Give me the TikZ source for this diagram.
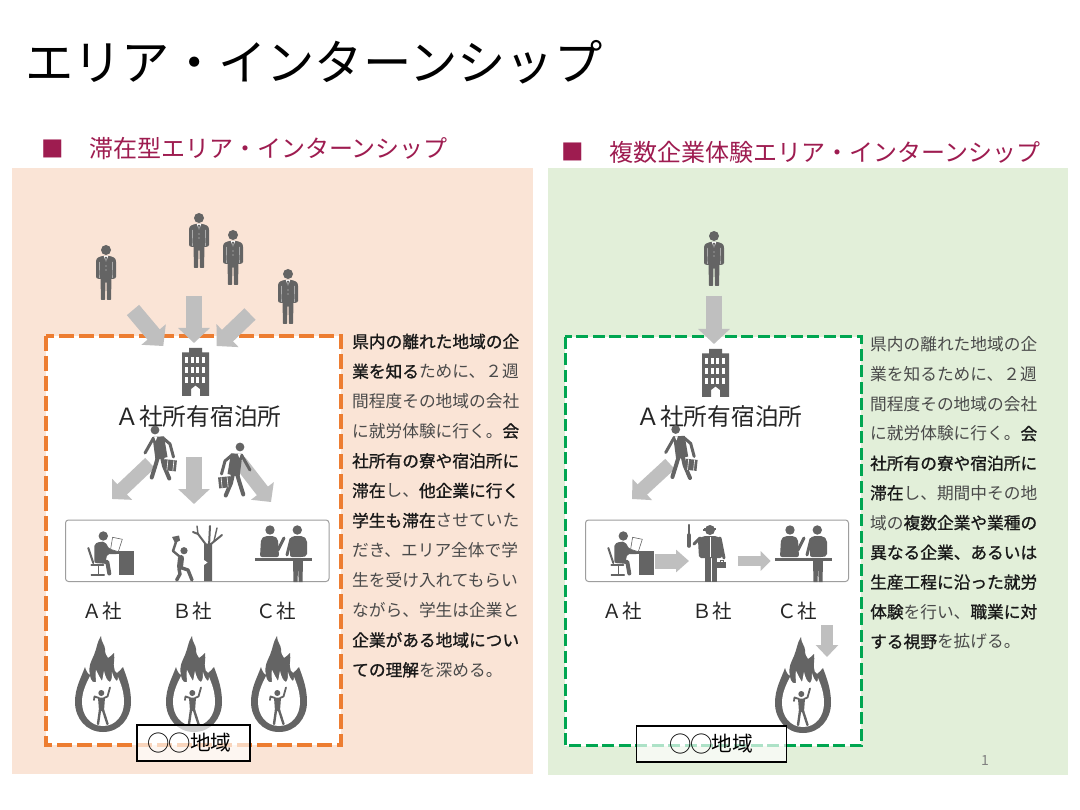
\documentclass[tikz,border=0pt]{standalone}
\usepackage{fontspec}
\setmainfont{Noto Sans CJK JP}[BoldFont={Noto Sans CJK JP},BoldFeatures={FakeBold=1.1}]
\usetikzlibrary{arrows.meta}
\definecolor{ico}{HTML}{646464}
\definecolor{arr}{HTML}{BFBFBF}
\definecolor{plum}{HTML}{9E1C50}
\definecolor{peach}{HTML}{FAE4D6}
\definecolor{mint}{HTML}{E2EFD9}
\definecolor{dashor}{HTML}{ED7D31}
\definecolor{dashgr}{HTML}{00A651}
\definecolor{bodyc}{HTML}{4A4A4A}
\newcommand{\bigring}{\makebox[20.7pt][c]{\raisebox{-1.4pt}{\scalebox{1.08}{○}}}}
\tikzset{
  x=1pt,y=-1pt,
  iconfill/.style={fill=ico,draw=none},
  limb/.style={draw=ico,line cap=round,line join=round},
  barrow/.style={draw=arr,line width=16pt,-{Triangle[length=15pt,width=31pt]},line cap=butt},
  barrowm/.style={draw=arr,line width=14pt,-{Triangle[length=14pt,width=28pt]},line cap=butt},
  bodytxt/.style={anchor=west,inner sep=0pt,font=\fontsize{16.7}{20}\selectfont,text=bodyc},
  headtxt/.style={anchor=west,inner sep=0pt,font=\fontsize{24}{28}\selectfont,text=plum},
  lodge/.style={inner sep=0pt,font=\fontsize{23.7}{28}\selectfont,text=black!85},
  firm/.style={inner sep=0pt,font=\fontsize{19.5}{24}\selectfont,text=black!85},
  regionbox/.style={draw=black,line width=1.5pt,fill=white,fill opacity=0.68,text opacity=1,minimum height=36pt,inner sep=0pt,font=\fontsize{20.7}{24}\selectfont},
  groupbox/.style={draw=black!38,line width=1pt,rounded corners=3pt,fill=white},
  person/.pic={
    \fill[ico] (0,5) circle (5);
    \fill[ico,rounded corners=1pt] (-4,11)--(4,11)--(9,13)--(10,16)--(10,33)--(7,34)--(-7,34)--(-10,33)--(-10,16)--(-9,13)--cycle;
    \fill[ico,rounded corners=.7pt] (-5.5,33)--(5.5,33)--(5,55)--(1,55)--(.5,37)--(-.5,37)--(-1,55)--(-5,55)--cycle;
    \fill[white] (-2.2,11)--(2.2,11)--(0,17)--cycle;
    \fill[ico] (-.8,12)--(.8,12)--(.6,17)--(-.6,17)--cycle;
    \draw[white!70!ico,line width=.4pt] (-6.3,17)--(-6.6,33) (6.3,17)--(6.6,33);
    \fill[white!70!ico] (0,21) circle (.6) (0,25) circle (.6);
  },
  building/.pic={
    \fill[ico] (-13.5,4.5)--(-6.5,4.5)--(-6.5,0)--(6.5,0)--(6.5,4.5)--(13.5,4.5)--(13.5,48)--(4.5,48)--(4.5,41)--(0,37.5)--(-4.5,41)--(-4.5,48)--(-13.5,48)--cycle;
    \foreach \r in {0,1,2}{\foreach \c in {0,1,2,3}{
      \fill[white] ({-10.5+\c*5.6},{9.5+\r*10}) rectangle ++(3,5.6);
    }}
  },
  walker/.pic={
    \fill[ico] (0,0) circle (4.4);
    \fill[ico] (-2.5,7)--(9,6.3)--(12.5,27)--(.5,30)--cycle;
    \draw[limb,line width=3pt] (-1.5,8)--(-10,23);
    \draw[limb,line width=3pt] (8,8)--(15,14)--(18.5,27);
    \draw[limb,line width=4pt] (7,27)--(9,36)--(14.3,48.5);
    \draw[limb,line width=4pt] (3,27)--(.3,36)--(-3.3,47.5);
    \fill[white] (-.8,7)--(2.2,7)--(.7,11)--cycle;
    \begin{scope}[rotate=-6]
      \fill[ico] (13,28) rectangle (25,39);
      \draw[white,line width=.6pt] (16,28)--(16,39) (22,28)--(22,39);
    \end{scope}
  },
  flame/.pic={
    \fill[ico] (0,96) .. controls (-17,96) and (-28,82) .. (-28,66)
      .. controls (-28,52) and (-22,42) .. (-18,31)
      .. controls (-17,35) and (-15,38) .. (-13,39)
      .. controls (-15,30) and (-12,26) .. (-9,19)
      .. controls (-6,12) and (-6,6) .. (-2,0)
      .. controls (-2,6) and (2,9) .. (2,13)
      .. controls (2,17) and (3,20) .. (5,22)
      .. controls (7,21) and (9,19) .. (11,17)
      .. controls (12,24) and (10,28) .. (11,31)
      .. controls (11,34) and (12,36) .. (14,37)
      .. controls (16,36) and (18,33) .. (20,31)
      .. controls (24,42) and (28,52) .. (28,66)
      .. controls (28,82) and (17,96) .. (0,96) -- cycle;
    \fill[white] (0,90) .. controls (-13,90) and (-21,79) .. (-21,66)
      .. controls (-21,56) and (-17,48) .. (-13,40)
      .. controls (-12,45) and (-10,47) .. (-7,46)
      .. controls (-7,42) and (-8,38) .. (-7,34)
      .. controls (-5,38) and (-3,42) .. (-1,45)
      .. controls (0,42) and (0,39) .. (1,35)
      .. controls (2,40) and (4,45) .. (7,46)
      .. controls (9,44) and (9,40) .. (9,36)
      .. controls (10,40) and (12,44) .. (14,45)
      .. controls (15,44) and (15,42) .. (15,41)
      .. controls (18,48) and (21,56) .. (21,66)
      .. controls (21,79) and (13,90) .. (0,90) -- cycle;
    \fill[ico] (-1.7,57) circle (3);
    \fill[ico] (-5,61.5)--(2,61.5)--(1,75)--(-4,75)--cycle;
    \draw[limb,line width=1.8pt] (-4,62)--(-8.5,60.5)--(-9,64);
    \draw[limb,line width=1.8pt] (1,62)--(4.5,60.5)--(7,51.5);
    \draw[limb,line width=2.4pt] (-3,74)--(-5,88);
    \draw[limb,line width=2.4pt] (0,74)--(4.5,88);
  },
  deskman/.pic={
    \fill[ico] (0,0) circle (4.7);
    \fill[ico,rounded corners=2pt] (-9,8)--(-3,5.5)--(2,6)--(6,13)--(15,15)--(15,18)--(4,18)--(2,27)--(-9,27)--cycle;
    \draw[limb,line width=4pt] (-6,25)--(4,26)--(6,37.5);
    \draw[limb,line width=2pt] (-15,12)--(-10,27);
    \draw[limb,line width=2pt] (-12,29)--(0,29);
    \draw[limb,line width=1.6pt] (-5,29)--(-5,38);
    \draw[limb,line width=1.2pt] (-12,39)--(1,39);
    \fill[ico] (7.3,15) rectangle (31,18.3);
    \fill[ico] (16,18.3) rectangle (31,39);
    \draw[ico,fill=white,line width=.6pt] (9.3,1.3)--(19,3.3)--(15,15.7)--(7.3,13.3)--cycle;
  },
  reception/.pic={
    \fill[ico] (0,0) circle (4.7);
    \fill[ico,rounded corners=2pt] (-10,27)--(-9,9)--(-5,6)--(4,6)--(8,9)--(9,27)--cycle;
    \draw[limb,line width=3pt] (8,20)--(14,8);
    \fill[ico] (27.3,0) circle (4.7);
    \fill[ico,rounded corners=2pt] (20,27)--(20,8)--(23,6)--(33,6)--(37,10)--(37,26)--(33,27)--cycle;
    \draw[limb,line width=3pt] (21,9)--(17,25);
    \fill[ico] (-15,27.7) rectangle (41.7,30.7);
    \fill[ico] (23,31)--(33,31)--(32.5,52)--(28.7,52)--(28,35)--(27.6,52)--(23.5,52)--cycle;
  }
}
\begin{document}
\begin{tikzpicture}
\useasboundingbox (0,0) rectangle (1080,810);
\fill[white] (0,0) rectangle (1080,810);
% panels
\fill[peach] (12,168) rectangle (533,774);
\fill[mint] (548,168) rectangle (1068,775);
% title + headings
\node[anchor=west,inner sep=0pt,font=\fontsize{48.3}{54}\selectfont] (title) at (25,62) {エリア・インターンシップ};
\node[inner sep=0pt,font=\fontsize{22.5}{28}\selectfont,text=plum] (sqa) at (53,149) {■};
\node[headtxt] (heada) at (89,149) {滞在型エリア・インターンシップ};
\node[inner sep=0pt,font=\fontsize{22.5}{28}\selectfont,text=plum] (sqb) at (573,152) {■};
\node[headtxt] (headb) at (609,152) {複数企業体験エリア・インターンシップ};
% dashed regions
\draw[dashor,line width=4pt,fill=white,dash pattern=on 15pt off 5pt] (46,336) rectangle (341,745);
\draw[dashgr,line width=3pt,fill=white,dash pattern=on 12pt off 4.5pt] (565,337) rectangle (861,745.5);
% group boxes
\draw[groupbox] (65.5,520) rectangle (329,581.5);
\draw[groupbox] (585.5,520) rectangle (848.5,581.5);
% people, left
\pic (pa) at (106,245) {person};
\pic (pb) at (199,213) {person};
\pic (pc) at (233,230) {person};
\pic (pd) at (288,269) {person};
\pic (pe) at (714,231) {person};
% incoming arrows
\coordinate (a1s) at (133,310); \coordinate (a1e) at (163.3,346);
\coordinate (a2s) at (194,296); \coordinate (a2e) at (194,343);
\coordinate (a3s) at (250,314); \coordinate (a3e) at (216.7,346);
\coordinate (a4s) at (714,296); \coordinate (a4e) at (714,344);
\draw[barrow] (a1s)--(a1e);
\draw[barrow] (a2s)--(a2e);
\draw[barrow] (a3s)--(a3e);
\draw[barrow] (a4s)--(a4e);
% buildings and labels
\pic (ba) at (195.5,348) {building};
\pic (bb) at (715.5,349) {building};
\node[lodge] (lodgea) at (198.5,417) {Ａ社所有宿泊所};
\node[lodge] (lodgeb) at (719.5,417) {Ａ社所有宿泊所};
% outgoing arrows
\coordinate (o1s) at (150,463); \coordinate (o1e) at (112,499);
\coordinate (o2s) at (194,457); \coordinate (o2e) at (194,504);
\coordinate (o3s) at (240,462); \coordinate (o3e) at (271,502);
\coordinate (o4s) at (670,464); \coordinate (o4e) at (632,499);
\draw[barrowm] (o1s)--(o1e);
\draw[barrow] (o2s)--(o2e);
\draw[barrowm] (o3s)--(o3e);
\draw[barrowm] (o4s)--(o4e);
\pic (wa) at (155,430) {walker};
\pic[xscale=-1] (wb) at (240,447) {walker};
\pic (wc) at (675.7,429.5) {walker};
% left group icons
\pic (da) at (103.3,536) {deskman};
\pic (ra) at (270,530) {reception};
\pic (db) at (623.3,536) {deskman};
\pic (rb) at (790,530) {reception};
% lumberjack
\fill[ico] (204,544)--(212,543)--(212,581)--(204,581)--cycle;
\fill[white] (204,560)--(207.5,562.5)--(204,565)--cycle;
\draw[limb,line width=2pt] (207,546)--(198,534)--(193,532);
\draw[limb,line width=1.4pt] (198,534)--(197,526);
\draw[limb,line width=2pt] (209,546)--(210,526);
\draw[limb,line width=2pt] (211,544)--(222,535);
\draw[limb,line width=1.4pt] (214,541)--(217,528);
\fill[ico] (184,550.7) circle (3.6);
\draw[limb,line width=6pt] (181,558)--(180,567);
\draw[limb,line width=2.4pt] (179,556)--(173,551)--(176,542);
\fill[ico] (172,537)--(179,535.5)--(180,540.5)--(175,543)--cycle;
\draw[limb,line width=3.4pt] (182,568)--(188,570)--(192,580);
\draw[limb,line width=3.4pt] (179,569)--(180,574)--(176.7,580);
% mechanic
\fill[ico] (710,530) circle (5);
\fill[ico] (704,527.5) rectangle (716,530);
\fill[ico] (703,529) rectangle (706,530.5);
\fill[ico,rounded corners=2pt] (699,558)--(698,540)--(703,536)--(717,536)--(722,540)--(722,558)--cycle;
\fill[ico] (705,558) rectangle (710.5,582);
\fill[ico] (711.5,558) rectangle (717,582);
\draw[white,line width=1pt] (710,537)--(710,557);
\draw[limb,line width=3pt] (700,538)--(694,544);
\draw[limb,line width=3pt] (720,538)--(724,558);
\draw[limb,line width=2.4pt] (689,525)--(689,534);
\draw[limb,line width=3.6pt] (689,535)--(689,546);
\fill[ico] (717,562) rectangle (726,568);
\draw[ico,line width=.7pt] (720,562)--(720,560.5)--(723,560.5)--(723,562);
% firm arrows
\coordinate (f1s) at (655,561); \coordinate (f1e) at (689,561);
\coordinate (f2s) at (737.7,561); \coordinate (f2e) at (770.7,561);
\coordinate (f3s) at (827,625); \coordinate (f3e) at (827,657);
\draw[draw=arr,line width=15pt,-{Triangle[length=13pt,width=22pt]}] (f1s)--(f1e);
\draw[draw=arr,line width=10pt,-{Triangle[length=10pt,width=19pt]}] (f2s)--(f2e);
\draw[draw=arr,line width=12pt,-{Triangle[length=12pt,width=22pt]}] (f3s)--(f3e);
% firm labels
\node[firm] (fa) at (102,611) {Ａ社};
\node[firm] (fb) at (192,611) {Ｂ社};
\node[firm] (fc) at (276,611) {Ｃ社};
\node[firm] (fd) at (622,611) {Ａ社};
\node[firm] (fe) at (712,611) {Ｂ社};
\node[firm] (ff) at (797,611) {Ｃ社};
% flames
\pic (fl1) at (103,636) {flame};
\pic (fl2) at (194,636) {flame};
\pic (fl3) at (279,636) {flame};
\pic (fl4) at (803,637) {flame};
% region labels
\node[regionbox,minimum width=113pt] (rega) at (193.5,743) {\hspace*{-7pt}\bigring\bigring 地域};
\node[regionbox,minimum width=150pt] (regb) at (711.7,744) {\bigring\bigring 地域};
% left text
\node[bodytxt] (la1) at (352,341.5) {\textbf{\color{black!90}県内の離れた地域の企}};
\node[bodytxt] (la2) at (352,371.3) {\textbf{\color{black!90}業を知る}ために、２週};
\node[bodytxt] (la3) at (352,401.2) {間程度その地域の会社};
\node[bodytxt] (la4) at (352,431) {に就労体験に行く。\textbf{\color{black!90}会}};
\node[bodytxt] (la5) at (352,460.9) {\textbf{\color{black!90}社所有の寮や宿泊所に}};
\node[bodytxt] (la6) at (352,490.7) {\textbf{\color{black!90}滞在}し、\textbf{\color{black!90}他企業に行く}};
\node[bodytxt] (la7) at (352,520.6) {\textbf{\color{black!90}学生も滞在}させていた};
\node[bodytxt] (la8) at (352,550.4) {だき、エリア全体で学};
\node[bodytxt] (la9) at (352,580.3) {生を受け入れてもらい};
\node[bodytxt] (la10) at (352,610.1) {ながら、学生は企業と};
\node[bodytxt] (la11) at (352,640) {\textbf{\color{black!90}企業がある地域につい}};
\node[bodytxt] (la12) at (352,669.8) {\textbf{\color{black!90}ての理解}を深める。};
% right text
\node[bodytxt] (lb1) at (870,344.5) {県内の離れた地域の企};
\node[bodytxt] (lb2) at (870,374.2) {業を知るために、２週};
\node[bodytxt] (lb3) at (870,403.9) {間程度その地域の会社};
\node[bodytxt] (lb4) at (870,433.6) {に就労体験に行く。\textbf{\color{black!90}会}};
\node[bodytxt] (lb5) at (870,463.3) {\textbf{\color{black!90}社所有の寮や宿泊所に}};
\node[bodytxt] (lb6) at (870,493) {\textbf{\color{black!90}滞在}し、期間中その地};
\node[bodytxt] (lb7) at (870,522.7) {域の\textbf{\color{black!90}複数企業や業種の}};
\node[bodytxt] (lb8) at (870,552.4) {\textbf{\color{black!90}異なる企業、あるいは}};
\node[bodytxt] (lb9) at (870,582.1) {\textbf{\color{black!90}生産工程に沿った就労}};
\node[bodytxt] (lb10) at (870,611.8) {\textbf{\color{black!90}体験}を行い、\textbf{\color{black!90}職業に対}};
\node[bodytxt] (lb11) at (870,641.5) {\textbf{\color{black!90}する視野}を拡げる。};
\node[inner sep=0pt,font=\fontsize{14}{16}\selectfont,text=black!50] (pg) at (985,761) {1};
\end{tikzpicture}
\end{document}
